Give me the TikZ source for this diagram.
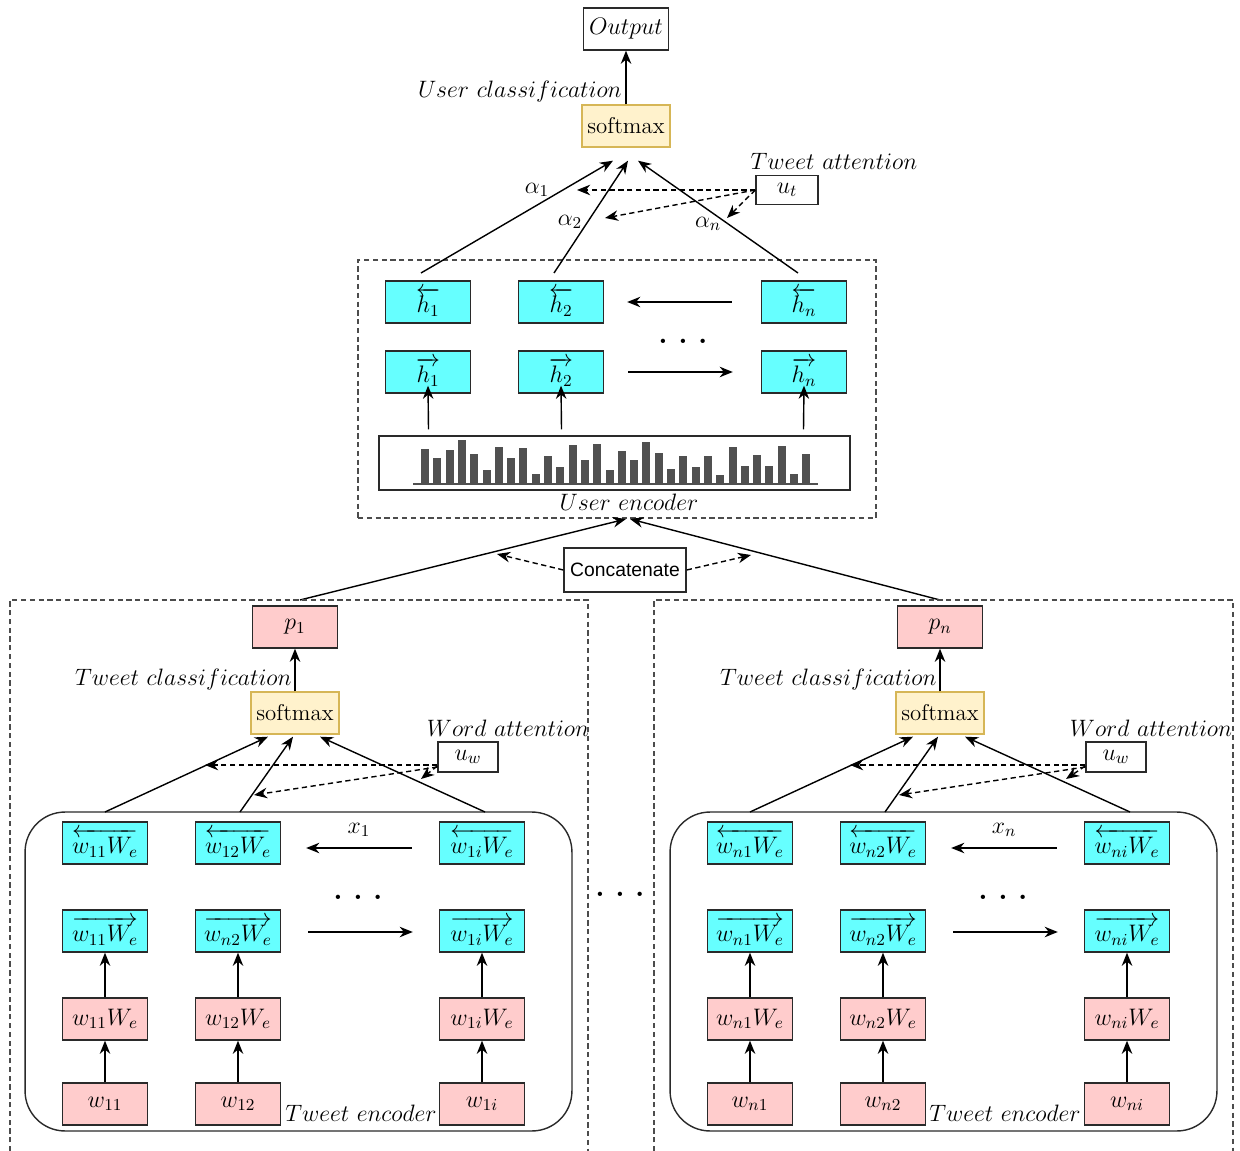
\documentclass[tikz,border=0pt]{standalone}
\usepackage{fix-cm}
\usepackage{amsmath}
\usepackage{amssymb}
\usepackage{fontspec}
\newfontfamily\arialfont{Liberation Sans}
\usetikzlibrary{arrows.meta,calc}

\definecolor{hcyan}{HTML}{66FFFF}
\definecolor{hpink}{HTML}{FFCCCC}
\definecolor{sfill}{HTML}{FFF2CC}
\definecolor{sdraw}{HTML}{D6B656}
\definecolor{bargray}{HTML}{505050}
\definecolor{edge}{HTML}{2A2A2A}

\tikzset{
  box/.style={draw=edge, line width=0.8pt, minimum width=1.7cm, minimum height=0.84cm, inner sep=1pt, font=\fontsize{13.6}{16}\selectfont},
  hbox/.style={box, fill=hcyan},
  pbox/.style={box, fill=hpink},
  sbox/.style={box, draw=sdraw, fill=sfill, minimum width=1.76cm, font=\fontsize{13}{15}\selectfont},
  lbl/.style={font=\fontsize{13.5}{16}\selectfont, inner sep=0pt},
  dots/.style={font=\fontsize{17}{20}\selectfont\bfseries, inner sep=0pt, anchor=base},
  arr/.style={-{Stealth[length=7.5pt,width=6pt]}, line width=0.8pt},
  darr/.style={arr, dash pattern=on 3pt off 2pt},
  encbox/.style={draw=gray!60!black, dash pattern=on 3pt off 2pt, line width=0.8pt},
}

\begin{document}
\begin{tikzpicture}[x=0.02cm, y=-0.02cm]
\useasboundingbox (0,0) rectangle (1240,1151);

% user level
\node[box] (out) at (626,29) {$Output$};
\node[sbox] (smU) at (626,126) {softmax};
\node[lbl, anchor=east] (ucls) at (622,92) {$User\ classification$};
\node[lbl] (tatt) at (834,161) {$Tweet\ attention$};
\node[box, minimum width=1.24cm, minimum height=0.58cm] (ut) at (787,190) {$u_t$};
\draw[arr] (smU) -- (out);

\node[encbox, minimum width=10.36cm, minimum height=5.16cm] (uenc) at (617,389) {};
\node[hbox] (hb1) at (428,302) {$\overleftarrow{h_1}$};
\node[hbox] (hb2) at (561,302) {$\overleftarrow{h_2}$};
\node[hbox] (hbn) at (804,302) {$\overleftarrow{h_n}$};
\node[hbox] (hf1) at (428,372) {$\overrightarrow{h_1}$};
\node[hbox] (hf2) at (561,372) {$\overrightarrow{h_2}$};
\node[hbox] (hfn) at (804,372) {$\overrightarrow{h_n}$};
\node[dots] (udots) at (683,344) {.\hspace{6pt}.\hspace{6pt}.};
\draw[arr] ($(hbn.west)+(-29,0)$) -- ($(hb2.east)+(23,0)$);
\draw[arr] ($(hf2.east)+(24,0)$) -- ($(hfn.west)+(-28,0)$);

\node[draw=edge, line width=0.8pt, minimum width=9.42cm, minimum height=1.08cm] (bars) at (614.5,463) {};
\foreach \h [count=\i from 0] in {35,26,34,44,30,14,37,26,36,10,28,17,39,24,40,14,33,24,42,31,15,28,17,28,9,37,18,29,18,38,10,30}
  \fill[bargray] ({421+12.3*\i},484) rectangle ++(8,-\h);
\draw[bargray, line width=1.7pt] (413,484) -- (818,484);
\node[lbl] (uenclbl) at (629,502) {$User\ encoder$};
\draw[arr] ($(bars.north)+(-186,-6)$) -- ($(hf1.south)+(0,-8)$);
\draw[arr] ($(bars.north)+(-53,-6)$) -- ($(hf2.south)+(0,-8)$);
\draw[arr] ($(bars.north)+(189,-6)$) -- ($(hfn.south)+(0,-8)$);

\coordinate (a1) at (421,273);
\coordinate (a2) at (554,273);
\coordinate (an) at (798,273);
\draw[arr] (a1) -- ($(smU.south)+(-13,13)$);
\draw[arr] (a2) -- ($(smU.south)+(2,13)$);
\draw[arr] (an) -- ($(smU.south)+(12,13)$);
\node[lbl] (al1) at (537,190) {$\alpha_1$};
\node[lbl] (al2) at (570,222) {$\alpha_2$};
\node[lbl] (aln) at (708,224) {$\alpha_n$};
\draw[darr] (ut.west) -- (577,190);
\draw[darr] (ut.west) -- (605,218);
\draw[darr] (ut.west) -- (727,218);

% concatenate
\node[box, font=\arialfont\fontsize{11}{13}\selectfont, minimum width=2.44cm, minimum height=0.88cm] (concat) at (625,570) {Concatenate};
\coordinate (s1) at (300,600);
\coordinate (sn) at (940,600);
\draw[arr] (s1) -- (626,519);
\draw[arr] (sn) -- (630,519);
\draw[darr] (concat.west) -- (497,554);
\draw[darr] (concat.east) -- (751,555);

% tweet encoder 1
\draw[encbox] (10,1160) |- (588,600) -- (588,1160);
\node[pbox] (p1) at (295,627) {$p_1$};
\node[sbox] (smL) at (295,713) {softmax};
\node[lbl, anchor=east] (tclsL) at (292,680) {$Tweet\ classification$};
\node[lbl] (wattL) at (508,728) {$Word\ attention$};
\node[box, minimum width=1.2cm, minimum height=0.6cm] (uwL) at (468,757) {$u_w$};
\draw[arr] (smL) -- (p1);
\node[draw=edge, line width=0.8pt, rounded corners=0.8cm, minimum width=10.94cm, minimum height=6.38cm] (tencL) at (298.5,971.5) {};
\coordinate (l1) at (105,812);
\coordinate (l2) at (240,812);
\coordinate (li) at (485,812);
\draw[arr] (l1) -- ($(smL.south)+(-27,2)$);
\draw[arr] (l2) -- ($(smL.south)+(-2,2)$);
\draw[arr] (li) -- ($(smL.south)+(25,2)$);
\draw[darr] ($(uwL.west)+(0,8)$) -- (205,765);
\draw[darr] ($(uwL.west)+(0,10)$) -- (254,795);
\draw[darr] ($(uwL.west)+(0,9)$) -- (421,779);

\node[hbox] (lb1) at (105,843) {$\overleftarrow{w_{11}W_e}$};
\node[hbox] (lb2) at (238,843) {$\overleftarrow{w_{12}W_e}$};
\node[hbox] (lbi) at (482,843) {$\overleftarrow{w_{1i}W_e}$};
\node[hbox] (lf1) at (105,931) {$\overrightarrow{w_{11}W_e}$};
\node[hbox] (lf2) at (238,931) {$\overrightarrow{w_{n2}W_e}$};
\node[hbox] (lfi) at (482,931) {$\overrightarrow{w_{1i}W_e}$};
\node[pbox] (le1) at (105,1019) {$w_{11}W_e$};
\node[pbox] (le2) at (238,1019) {$w_{12}W_e$};
\node[pbox] (lei) at (482,1019) {$w_{1i}W_e$};
\node[pbox] (lw1) at (105,1104) {$w_{11}$};
\node[pbox] (lw2) at (238,1104) {$w_{12}$};
\node[pbox] (lwi) at (482,1104) {$w_{1i}$};
\draw[arr] ($(lbi.west)+(-27,5)$) -- ($(lb2.east)+(25,5)$) node[lbl, midway, above=6pt] {$x_1$};
\draw[arr] ($(lf2.east)+(27,1)$) -- ($(lfi.west)+(-26,1)$);
\node[dots] (ldots) at (358,899) {.\hspace{6pt}.\hspace{6pt}.};
\draw[arr] (le1) -- (lf1);
\draw[arr] (le2) -- (lf2);
\draw[arr] (lei) -- (lfi);
\draw[arr] (lw1) -- (le1);
\draw[arr] (lw2) -- (le2);
\draw[arr] (lwi) -- (lei);
\node[lbl] (tencLlbl) at (361,1113) {$Tweet\ encoder$};

\node[dots] (mdots) at (620,896) {.\hspace{6pt}.\hspace{6pt}.};

% tweet encoder n
\draw[encbox] (654,1160) |- (1233,600) -- (1233,1160);
\node[pbox] (pn) at (940,627) {$p_n$};
\node[sbox] (smR) at (940,713) {softmax};
\node[lbl, anchor=east] (tclsR) at (937,680) {$Tweet\ classification$};
\node[lbl] (wattR) at (1151,728) {$Word\ attention$};
\node[box, minimum width=1.2cm, minimum height=0.6cm] (uwR) at (1116,757) {$u_w$};
\draw[arr] (smR) -- (pn);
\node[draw=edge, line width=0.8pt, rounded corners=0.8cm, minimum width=10.94cm, minimum height=6.38cm] (tencR) at (943.5,971.5) {};
\coordinate (r1) at (750,812);
\coordinate (r2) at (885,812);
\coordinate (ri) at (1130,812);
\draw[arr] (r1) -- ($(smR.south)+(-27,2)$);
\draw[arr] (r2) -- ($(smR.south)+(-2,2)$);
\draw[arr] (ri) -- ($(smR.south)+(25,2)$);
\draw[darr] ($(uwR.west)+(0,8)$) -- (850,765);
\draw[darr] ($(uwR.west)+(0,10)$) -- (899,795);
\draw[darr] ($(uwR.west)+(0,9)$) -- (1066,779);

\node[hbox] (rb1) at (750,843) {$\overleftarrow{w_{n1}W_e}$};
\node[hbox] (rb2) at (883,843) {$\overleftarrow{w_{n2}W_e}$};
\node[hbox] (rbi) at (1127,843) {$\overleftarrow{w_{ni}W_e}$};
\node[hbox] (rf1) at (750,931) {$\overrightarrow{w_{n1}W_e}$};
\node[hbox] (rf2) at (883,931) {$\overrightarrow{w_{n2}W_e}$};
\node[hbox] (rfi) at (1127,931) {$\overrightarrow{w_{ni}W_e}$};
\node[pbox] (re1) at (750,1019) {$w_{n1}W_e$};
\node[pbox] (re2) at (883,1019) {$w_{n2}W_e$};
\node[pbox] (rei) at (1127,1019) {$w_{ni}W_e$};
\node[pbox] (rw1) at (750,1104) {$w_{n1}$};
\node[pbox] (rw2) at (883,1104) {$w_{n2}$};
\node[pbox] (rwi) at (1127,1104) {$w_{ni}$};
\draw[arr] ($(rbi.west)+(-27,5)$) -- ($(rb2.east)+(25,5)$) node[lbl, midway, above=6pt] {$x_n$};
\draw[arr] ($(rf2.east)+(27,1)$) -- ($(rfi.west)+(-26,1)$);
\node[dots] (rdots) at (1003,899) {.\hspace{6pt}.\hspace{6pt}.};
\draw[arr] (re1) -- (rf1);
\draw[arr] (re2) -- (rf2);
\draw[arr] (rei) -- (rfi);
\draw[arr] (rw1) -- (re1);
\draw[arr] (rw2) -- (re2);
\draw[arr] (rwi) -- (rei);
\node[lbl] (tencRlbl) at (1005,1113) {$Tweet\ encoder$};
\end{tikzpicture}
\end{document}
